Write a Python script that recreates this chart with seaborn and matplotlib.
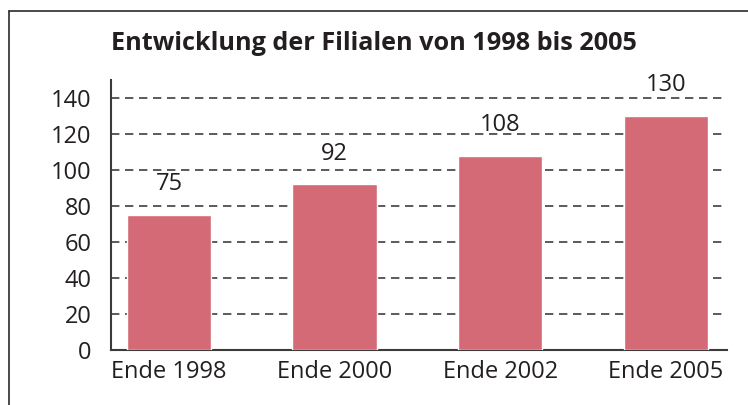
import matplotlib
matplotlib.use("Agg")
import matplotlib.pyplot as plt
import seaborn as sns
import pandas as pd
from matplotlib.lines import Line2D

# Daten
kategorien = ["Ende 1998", "Ende 2000", "Ende 2002", "Ende 2005"]
filialen = [75, 92, 108, 130]
y_ticks = [0, 20, 40, 60, 80, 100, 120, 140]
titel = "Entwicklung der Filialen von 1998 bis 2005"

BAR_COLOR = "#d46a75"
TEXT_COLOR = "#231f20"

sns.set_theme(style="white")
plt.rcParams["font.family"] = ["Open Sans", "DejaVu Sans"]

df = pd.DataFrame({"Jahr": kategorien, "Filialen": filialen})

fig = plt.figure(figsize=(7.48, 4.05), dpi=100)
fig.patch.set_facecolor("white")

# Rahmen oben und links
fig.add_artist(Line2D([9 / 748, 1.0], [1 - 11 / 405, 1 - 11 / 405],
                      transform=fig.transFigure, color="#2b2b2b", lw=1.2))
fig.add_artist(Line2D([9 / 748, 9 / 748], [0, 1 - 11 / 405],
                      transform=fig.transFigure, color="#2b2b2b", lw=1.2))

ax = fig.add_axes([111 / 748, 1 - 350 / 405, (727 - 111) / 748, 270 / 405])
ax.patch.set_alpha(0)

sns.barplot(data=df, x="Jahr", y="Filialen", color=BAR_COLOR, width=0.51,
            saturation=1, ax=ax, zorder=3)

ax.set_xlim(-0.35, 3.37)
ax.set_ylim(0, 150)
ax.set_yticks(y_ticks)

for y in y_ticks[1:]:
    ax.axhline(y, color="#5a5a5a", lw=1.4, ls=(0, (4.3, 2.9)), zorder=1)

for i, v in enumerate(filialen):
    ax.annotate(str(v), (i, v), xytext=(0, 22), textcoords="offset points",
                ha="center", va="center", fontsize=17, color=TEXT_COLOR)

ax.set_xlabel("")
ax.set_ylabel("")
ax.tick_params(axis="both", length=0, labelsize=17, labelcolor=TEXT_COLOR)
ax.tick_params(axis="y", pad=14)
ax.tick_params(axis="x", pad=7)

for s in ["top", "right"]:
    ax.spines[s].set_visible(False)
for s in ["left", "bottom"]:
    ax.spines[s].set_color("#3a3a3a")
    ax.spines[s].set_linewidth(1.5)

fig.text(111 / 748, 1 - 44 / 405, titel, fontsize=18.2, fontweight="bold",
         color=TEXT_COLOR, ha="left", va="center")

fig.savefig("out.png", dpi=100)
